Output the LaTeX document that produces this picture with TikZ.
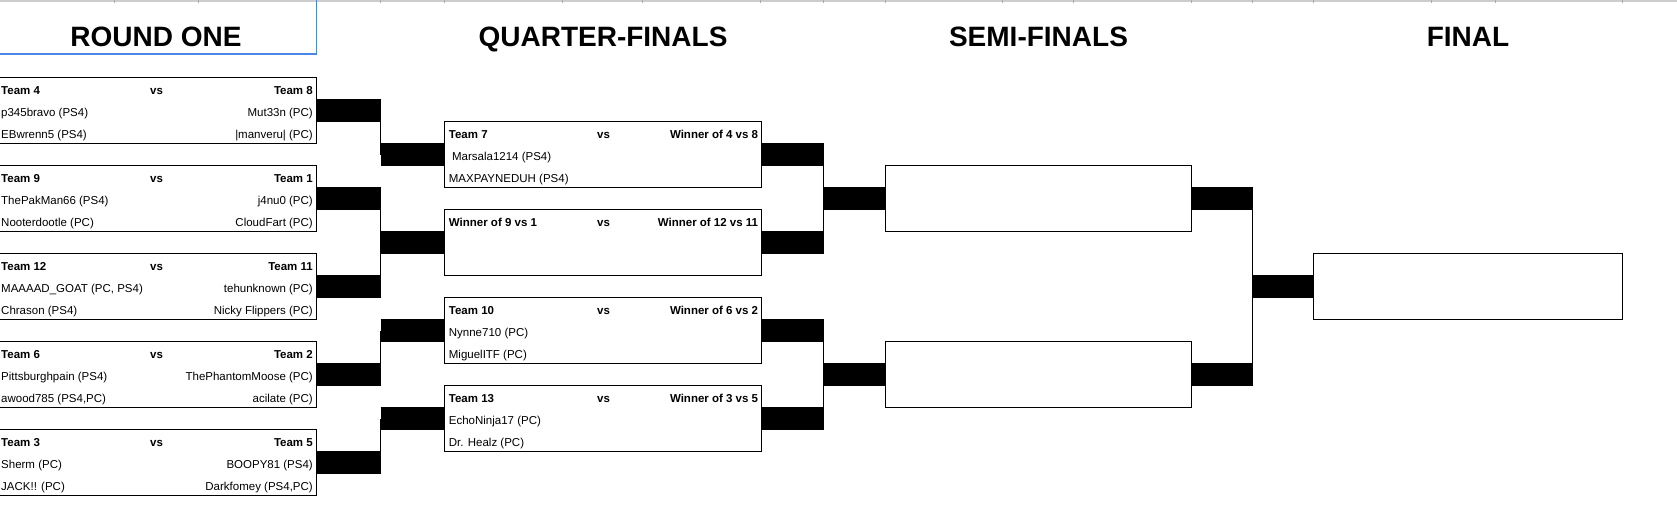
\documentclass[tikz,border=0pt]{standalone}
\usepackage{fontspec}
\setmainfont{Liberation Sans}
\definecolor{selblue}{RGB}{74,134,232}
\definecolor{gridgray}{RGB}{205,205,205}
\definecolor{tickgray}{RGB}{170,170,170}
\begin{document}
\begin{tikzpicture}[x=1pt,y=-1pt,
  box/.style={draw, line width=1pt, rectangle, inner sep=0pt, outer sep=0pt, minimum height=66pt},
  r1box/.style={box, minimum width=318.3pt},
  qfbox/.style={box, minimum width=317.4pt},
  sfbox/.style={box, minimum width=306.4pt},
  finbox/.style={box, minimum width=309.4pt},
  bar/.style={line width=22.5pt, line cap=butt},
  link/.style={line width=1pt},
  title/.style={font=\fontsize{28}{32}\selectfont\bfseries, anchor=base, inner sep=0pt},
  lt/.style={font=\fontsize{11.5}{13}\selectfont, anchor=base west, inner sep=0pt},
  rt/.style={font=\fontsize{11.5}{13}\selectfont, anchor=base east, inner sep=0pt},
  ltb/.style={font=\fontsize{11.5}{13}\selectfont\bfseries, anchor=base west, inner sep=0pt},
  rtb/.style={font=\fontsize{11.5}{13}\selectfont\bfseries, anchor=base east, inner sep=0pt},
  vst/.style={font=\fontsize{11.5}{13}\selectfont\bfseries, anchor=base, inner sep=0pt},
]
\path[use as bounding box, clip] (0,0) rectangle (1677,515);
\fill[white] (0,0) rectangle (1677,515);

% top grid line of the sheet
\fill[gridgray] (0,0) rectangle (1677,2);
\foreach \x in {114,198,380,444.6,562,642.7,760.6,823,885.4,1002.8,1073.3,1191.3,1252.2,1313.6,1431,1495.6,1622.7}
  \draw[tickgray, line width=0.8pt] (\x,0) -- (\x,2.8);

% selected header cell
\draw[selblue, line width=1.2pt] (0,54) -- (316.3,54) -- (316.3,0);

% titles
\node[title] (t1) at (156,46.7) {ROUND ONE};
\node[title] (t2) at (603,46.7) {QUARTER-FINALS};
\node[title] (t3) at (1038.5,46.7) {SEMI-FINALS};
\node[title] (t4) at (1468,46.7) {FINAL};

% boxes
\node[r1box] (m1) at (157.15,110.7) {};
\node[r1box] (m2) at (157.15,198.7) {};
\node[r1box] (m3) at (157.15,286.7) {};
\node[r1box] (m4) at (157.15,374.7) {};
\node[r1box] (m5) at (157.15,462.7) {};
\node[qfbox] (q1) at (603,154.7) {};
\node[qfbox] (q2) at (603,242.7) {};
\node[qfbox] (q3) at (603,330.7) {};
\node[qfbox] (q4) at (603,418.7) {};
\node[sfbox] (s1) at (1038.5,198.7) {};
\node[sfbox] (s2) at (1038.5,374.7) {};
\node[finbox] (f) at (1468,286.7) {};

% round one texts
\node[ltb] (m1a) at (1,94.3) {Team 4};
\node[vst] (m1v) at (156.5,94.3) {vs};
\node[rtb] (m1b) at (313,94.3) {Team 8};
\node[lt] (m1c) at (1,116.3) {p345bravo (PS4)};
\node[rt] (m1d) at (313,116.3) {Mut33n (PC)};
\node[lt] (m1e) at (1,138.3) {EBwrenn5 (PS4)};
\node[rt] (m1f) at (313,138.3) {|manveru| (PC)};

\node[ltb] (m2a) at (1,182.3) {Team 9};
\node[vst] (m2v) at (156.5,182.3) {vs};
\node[rtb] (m2b) at (313,182.3) {Team 1};
\node[lt] (m2c) at (1,204.3) {ThePakMan66 (PS4)};
\node[rt] (m2d) at (313,204.3) {j4nu0 (PC)};
\node[lt] (m2e) at (1,226.3) {Nooterdootle (PC)};
\node[rt] (m2f) at (313,226.3) {CloudFart (PC)};

\node[ltb] (m3a) at (1,270.3) {Team 12};
\node[vst] (m3v) at (156.5,270.3) {vs};
\node[rtb] (m3b) at (313,270.3) {Team 11};
\node[lt] (m3c) at (1,292.3) {MAAAAD\_GOAT (PC, PS4)};
\node[rt] (m3d) at (313,292.3) {tehunknown (PC)};
\node[lt] (m3e) at (1,314.3) {Chrason (PS4)};
\node[rt] (m3f) at (313,314.3) {Nicky Flippers (PC)};

\node[ltb] (m4a) at (1,358.3) {Team 6};
\node[vst] (m4v) at (156.5,358.3) {vs};
\node[rtb] (m4b) at (313,358.3) {Team 2};
\node[lt] (m4c) at (1,380.3) {Pittsburghpain (PS4)};
\node[rt] (m4d) at (313,380.3) {ThePhantomMoose (PC)};
\node[lt] (m4e) at (1,402.3) {awood785 (PS4,PC)};
\node[rt] (m4f) at (313,402.3) {acilate (PC)};

\node[ltb] (m5a) at (1,446.3) {Team 3};
\node[vst] (m5v) at (156.5,446.3) {vs};
\node[rtb] (m5b) at (313,446.3) {Team 5};
\node[lt] (m5c) at (1,468.3) {Sherm (PC)};
\node[rt] (m5d) at (313,468.3) {BOOPY81 (PS4)};
\node[lt] (m5e) at (1,490.3) {JACK!! (PC)};
\node[rt] (m5f) at (313,490.3) {Darkfomey (PS4,PC)};

% quarter-final texts
\node[ltb] (q1a) at (448.7,138.3) {Team 7};
\node[vst] (q1v) at (603.5,138.3) {vs};
\node[rtb] (q1b) at (758.3,138.3) {Winner of 4 vs 8};
\node[lt] (q1c) at (451.9,160.3) {Marsala1214 (PS4)};
\node[lt] (q1e) at (448.7,182.3) {MAXPAYNEDUH (PS4)};

\node[ltb] (q2a) at (448.7,226.3) {Winner of 9 vs 1};
\node[vst] (q2v) at (603.5,226.3) {vs};
\node[rtb] (q2b) at (758.3,226.3) {Winner of 12 vs 11};

\node[ltb] (q3a) at (448.7,314.3) {Team 10};
\node[vst] (q3v) at (603.5,314.3) {vs};
\node[rtb] (q3b) at (758.3,314.3) {Winner of 6 vs 2};
\node[lt] (q3c) at (448.7,336.3) {Nynne710 (PC)};
\node[lt] (q3e) at (448.7,358.3) {MiguelITF (PC)};

\node[ltb] (q4a) at (448.7,402.3) {Team 13};
\node[vst] (q4v) at (603.5,402.3) {vs};
\node[rtb] (q4b) at (758.3,402.3) {Winner of 3 vs 5};
\node[lt] (q4c) at (448.7,424.3) {EchoNinja17 (PC)};
\node[lt] (q4e) at (448.7,446.3) {Dr. Healz (PC)};

% junction coordinates
\coordinate (a1) at (380.5,110.7);
\coordinate (a2) at (380.5,198.7);
\coordinate (a3) at (380.5,286.7);
\coordinate (a4) at (380.5,374.7);
\coordinate (a5) at (380.5,462.7);
\coordinate (b1) at (380.5,154.7);
\coordinate (b2) at (380.5,242.7);
\coordinate (b3) at (380.5,330.7);
\coordinate (b4) at (380.5,418.7);
\coordinate (c1) at (823.7,154.7);
\coordinate (c2) at (823.7,242.7);
\coordinate (c3) at (823.7,330.7);
\coordinate (c4) at (823.7,418.7);
\coordinate (d1) at (823.7,198.7);
\coordinate (d2) at (823.7,374.7);
\coordinate (e1) at (1252.7,198.7);
\coordinate (e2) at (1252.7,374.7);
\coordinate (g) at (1252.7,286.7);

% round one -> quarter-finals
\draw[bar] (m1.east) -- (a1);
\draw[bar] (m2.east) -- (a2);
\draw[bar] (m3.east) -- (a3);
\draw[bar] (m4.east) -- (a4);
\draw[bar] (m5.east) -- (a5);
\draw[link] (a1) -- (b1);
\draw[link] (a2) -- (b2);
\draw[link] (a3) -- (b2);
\draw[link] (a4) -- (b3);
\draw[link] (a5) -- (b4);
\draw[bar] (b1) -- (q1.west);
\draw[bar] (b2) -- (q2.west);
\draw[bar] (b3) -- (q3.west);
\draw[bar] (b4) -- (q4.west);

% quarter-finals -> semi-finals
\draw[bar] (q1.east) -- (c1);
\draw[bar] (q2.east) -- (c2);
\draw[bar] (q3.east) -- (c3);
\draw[bar] (q4.east) -- (c4);
\draw[link] (c1) -- (d1);
\draw[link] (c2) -- (d1);
\draw[link] (c3) -- (d2);
\draw[link] (c4) -- (d2);
\draw[bar] (d1) -- (s1.west);
\draw[bar] (d2) -- (s2.west);

% semi-finals -> final
\draw[bar] (s1.east) -- (e1);
\draw[bar] (s2.east) -- (e2);
\draw[link] (e1) -- (e2);
\draw[bar] (g) -- (f.west);
\end{tikzpicture}
\end{document}
